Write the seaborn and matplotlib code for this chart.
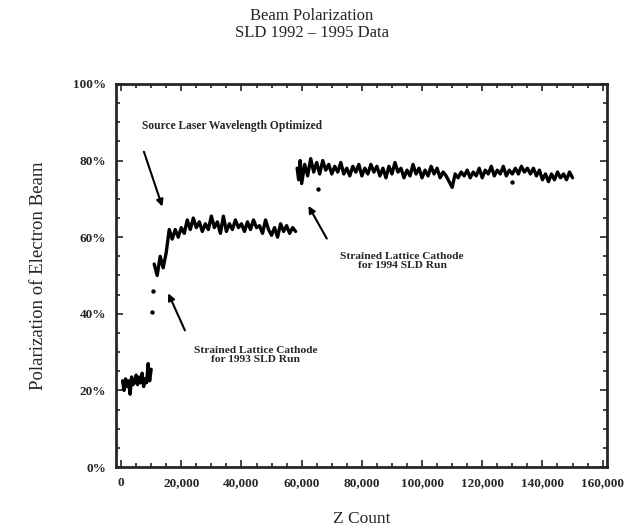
import numpy as np
import pandas as pd
import matplotlib
matplotlib.use("Agg")
import matplotlib.pyplot as plt
from matplotlib.ticker import MultipleLocator, FuncFormatter
import seaborn as sns

# 1992 run (old cathode)
seg1_z = [500, 1000, 1500, 2000, 2500, 3000, 3500, 4000, 4500, 5000,
          5500, 6000, 6500, 7000, 7500, 8000, 8500, 9000, 9500, 10000]
seg1_pol = [22.5, 20.0, 23.0, 21.0, 22.5, 19.0, 23.5, 21.5, 22.0, 24.0,
            21.5, 23.5, 22.0, 24.5, 21.0, 23.0, 22.0, 27.0, 22.5, 25.5]

# 1993 run
seg2_z = [11000, 12000, 13000, 14000, 15000, 16000, 17000, 18000, 19000, 20000,
          21000, 22000, 23000, 24000, 25000, 26000, 27000, 28000, 29000, 30000,
          31000, 32000, 33000, 34000, 35000, 36000, 37000, 38000, 39000, 40000,
          41000, 42000, 43000, 44000, 45000, 46000, 47000, 48000, 49000, 50000,
          51000, 52000, 53000, 54000, 55000, 56000, 57000, 58000]
seg2_pol = [53.0, 50.0, 55.0, 52.0, 56.0, 62.0, 59.5, 62.0, 60.0, 62.5,
            61.0, 64.5, 62.0, 65.0, 62.5, 64.0, 61.5, 63.5, 62.0, 65.5,
            62.5, 64.0, 61.0, 65.5, 61.5, 63.5, 62.0, 64.5, 62.5, 63.5,
            61.5, 64.0, 62.0, 64.5, 62.5, 63.0, 61.0, 64.5, 62.0, 60.5,
            62.5, 60.0, 63.5, 61.5, 63.0, 61.0, 62.5, 61.5]

# 1994-95 run
seg3_z = [58500, 59000, 59500, 60000, 61000, 62000, 63000, 64000, 65000, 66000,
          67000, 68000, 69000, 70000, 71000, 72000, 73000, 74000, 75000, 76000,
          77000, 78000, 79000, 80000, 81000, 82000, 83000, 84000, 85000, 86000,
          87000, 88000, 89000, 90000, 91000, 92000, 93000, 94000, 95000, 96000,
          97000, 98000, 99000, 100000, 101000, 102000, 103000, 104000, 105000, 106000,
          107000, 108000, 109000, 110000, 111000, 112000, 113000, 114000, 115000, 116000,
          117000, 118000, 119000, 120000, 121000, 122000, 123000, 124000, 125000, 126000,
          127000, 128000, 129000, 130000, 131000, 132000, 133000, 134000, 135000, 136000,
          137000, 138000, 139000, 140000, 141000, 142000, 143000, 144000, 145000, 146000,
          147000, 148000, 149000, 150000]
seg3_pol = [78.0, 75.0, 80.0, 74.0, 79.0, 76.0, 80.5, 77.0, 79.5, 76.5,
            80.0, 77.5, 79.0, 76.5, 78.5, 77.0, 79.5, 76.5, 78.0, 76.0,
            78.5, 77.0, 79.0, 76.0, 78.0, 76.5, 79.0, 77.0, 78.5, 76.0,
            78.0, 75.5, 78.5, 76.5, 79.5, 77.0, 78.0, 75.5, 77.5, 76.0,
            79.0, 76.5, 78.0, 75.5, 77.5, 76.0, 78.5, 76.5, 78.0, 75.5,
            77.0, 76.0, 74.5, 73.0, 76.5, 75.5, 77.0, 76.0, 77.5, 75.5,
            77.0, 76.0, 78.0, 75.5, 77.5, 76.5, 78.5, 76.0, 77.5, 76.5,
            78.5, 76.0, 77.5, 76.5, 78.0, 76.5, 78.5, 77.0, 78.0, 76.5,
            78.0, 76.0, 77.5, 75.0, 76.5, 74.5, 76.5, 75.0, 77.0, 75.5,
            76.5, 75.0, 77.0, 75.5]

# stray single measurements
dots_z = [10300, 10500, 65500, 130000]
dots_pol = [40.5, 46.0, 72.5, 74.3]

sns.set_style("ticks")
plt.rcParams['font.family'] = ['Liberation Serif', 'DejaVu Serif']

fig = plt.figure(figsize=(6.24, 5.28), dpi=100)
ax = fig.add_axes([0.186, 0.1155, 0.787, 0.7255])

for zz, pp in [(seg1_z, seg1_pol), (seg2_z, seg2_pol), (seg3_z, seg3_pol)]:
    df = pd.DataFrame({'z': zz, 'pol': pp})
    sns.lineplot(data=df, x='z', y='pol', ax=ax, color='black', linewidth=2.4,
                 estimator=None, sort=False)
sns.scatterplot(x=dots_z, y=dots_pol, ax=ax, color='black', s=10, linewidth=0)

ax.set_xlim(-1660, 161500)
ax.set_ylim(0, 100)
ax.xaxis.set_major_locator(MultipleLocator(20000))
ax.xaxis.set_minor_locator(MultipleLocator(5000))
ax.yaxis.set_major_locator(MultipleLocator(20))
ax.yaxis.set_minor_locator(MultipleLocator(5))
ax.xaxis.set_major_formatter(FuncFormatter(lambda v, p: f"{int(v):,}"))
ax.yaxis.set_major_formatter(FuncFormatter(lambda v, p: f"{int(v)}%"))
ax.tick_params(which='both', direction='in', top=True, right=True, width=1.2)
ax.tick_params(which='major', length=5, labelsize=9.5, pad=7)
ax.tick_params(which='minor', length=3)
for lab in ax.get_xticklabels() + ax.get_yticklabels():
    lab.set_fontweight('bold')
for sp in ax.spines.values():
    sp.set_linewidth(2)
    sp.set_visible(True)

ax.set_xlabel('Z Count', fontsize=12.5, labelpad=16)
ax.set_ylabel('Polarization of Electron Beam', fontsize=13.5, labelpad=19)
fig.text(0.5, 0.985, 'Beam Polarization\nSLD 1992 \u2013 1995 Data', ha='center', va='top',
         fontsize=12, linespacing=1.1)

arrow = dict(arrowstyle='-|>', color='black', lw=1.5, mutation_scale=10)
ax.text(7000, 89, 'Source Laser Wavelength Optimized', fontsize=8.3, fontweight='bold',
        ha='left', va='center')
ax.annotate('', xy=(14000, 67.3), xytext=(7300, 83), arrowprops=arrow)
ax.text(44800, 29.3, 'Strained Lattice Cathode\nfor 1993 SLD Run', fontsize=8.2,
        fontweight='bold', ha='center', va='center', linespacing=1.0)
ax.annotate('', xy=(15300, 46), xytext=(21600, 35), arrowprops=arrow)
ax.text(93400, 53.8, 'Strained Lattice Cathode\nfor 1994 SLD Run', fontsize=8.2,
        fontweight='bold', ha='center', va='center', linespacing=1.0)
ax.annotate('', xy=(61800, 68.8), xytext=(68800, 59), arrowprops=arrow)

fig.savefig('out.png', dpi=100)
